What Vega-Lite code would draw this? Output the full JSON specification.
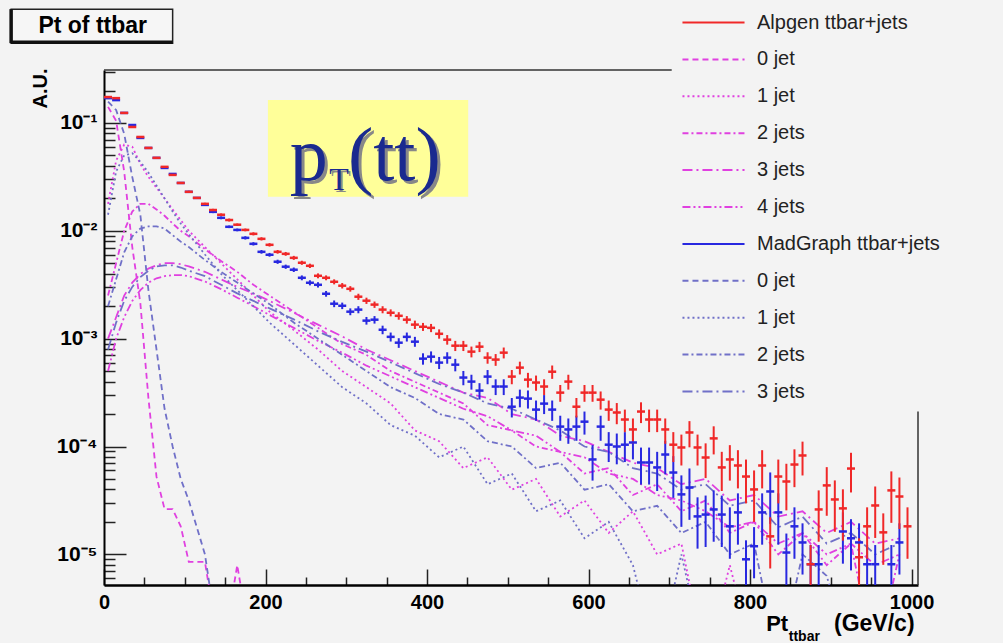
{
"$schema": "https://vega.github.io/schema/vega-lite/v6.json",
"width": 814, "height": 515,
"autosize": {"type": "none"},
"padding": {"left": 104, "top": 70, "right": 85, "bottom": 58},
"background": "#f3f3f3",
"config": {"view": {"stroke": null}, "font": "Liberation Sans"},
"datasets": {
"tot": [
{"s":"M","x":5,"y":0.170,"lo":0.169,"hi":0.171},
{"s":"M","x":15,"y":0.163,"lo":0.162,"hi":0.164},
{"s":"M","x":25,"y":0.124,"lo":0.123,"hi":0.125},
{"s":"M","x":35,"y":0.0958,"lo":0.0948,"hi":0.0968},
{"s":"M","x":45,"y":0.0727,"lo":0.0718,"hi":0.0736},
{"s":"M","x":55,"y":0.0587,"lo":0.0579,"hi":0.0595},
{"s":"M","x":65,"y":0.0475,"lo":0.0468,"hi":0.0482},
{"s":"M","x":75,"y":0.0383,"lo":0.0377,"hi":0.0389},
{"s":"M","x":85,"y":0.0337,"lo":0.0331,"hi":0.0343},
{"s":"M","x":95,"y":0.0278,"lo":0.0273,"hi":0.0283},
{"s":"M","x":105,"y":0.0230,"lo":0.0225,"hi":0.0235},
{"s":"M","x":115,"y":0.0202,"lo":0.0198,"hi":0.0206},
{"s":"M","x":125,"y":0.0174,"lo":0.0170,"hi":0.0178},
{"s":"M","x":135,"y":0.0150,"lo":0.0146,"hi":0.0154},
{"s":"M","x":145,"y":0.0132,"lo":0.0128,"hi":0.0136},
{"s":"M","x":155,"y":0.0109,"lo":0.0106,"hi":0.0112},
{"s":"M","x":165,"y":0.0102,"lo":0.0099,"hi":0.0105},
{"s":"M","x":175,"y":0.00861,"lo":0.00831,"hi":0.00891},
{"s":"M","x":185,"y":0.00758,"lo":0.00731,"hi":0.00785},
{"s":"M","x":195,"y":0.00639,"lo":0.00614,"hi":0.00664},
{"s":"M","x":205,"y":0.00600,"lo":0.00576,"hi":0.00624},
{"s":"M","x":215,"y":0.00517,"lo":0.00494,"hi":0.00540},
{"s":"M","x":225,"y":0.00465,"lo":0.00444,"hi":0.00486},
{"s":"M","x":235,"y":0.00436,"lo":0.00415,"hi":0.00457},
{"s":"M","x":245,"y":0.00367,"lo":0.00348,"hi":0.00386},
{"s":"M","x":255,"y":0.00330,"lo":0.00312,"hi":0.00348},
{"s":"M","x":265,"y":0.00316,"lo":0.00298,"hi":0.00334},
{"s":"M","x":275,"y":0.00261,"lo":0.00245,"hi":0.00277},
{"s":"M","x":285,"y":0.00211,"lo":0.00196,"hi":0.00226},
{"s":"M","x":295,"y":0.00202,"lo":0.00188,"hi":0.00216},
{"s":"M","x":305,"y":0.00178,"lo":0.00165,"hi":0.00191},
{"s":"M","x":315,"y":0.00186,"lo":0.00172,"hi":0.00200},
{"s":"M","x":325,"y":0.00147,"lo":0.00135,"hi":0.00159},
{"s":"M","x":335,"y":0.00150,"lo":0.00138,"hi":0.00162},
{"s":"M","x":345,"y":0.00121,"lo":0.00110,"hi":0.00132},
{"s":"M","x":355,"y":0.00104,"lo":0.000941,"hi":0.00114},
{"s":"M","x":365,"y":0.000918,"lo":0.000822,"hi":0.00101},
{"s":"M","x":375,"y":0.00104,"lo":0.000941,"hi":0.00114},
{"s":"M","x":385,"y":0.000938,"lo":0.000841,"hi":0.00104},
{"s":"M","x":395,"y":0.000653,"lo":0.000574,"hi":0.000732},
{"s":"M","x":405,"y":0.000681,"lo":0.000600,"hi":0.000762},
{"s":"M","x":415,"y":0.000600,"lo":0.000523,"hi":0.000677},
{"s":"M","x":425,"y":0.000667,"lo":0.000586,"hi":0.000748},
{"s":"M","x":435,"y":0.000574,"lo":0.000498,"hi":0.000650},
{"s":"M","x":445,"y":0.000436,"lo":0.000370,"hi":0.000502},
{"s":"M","x":455,"y":0.000400,"lo":0.000337,"hi":0.000463},
{"s":"M","x":465,"y":0.000330,"lo":0.000273,"hi":0.000387},
{"s":"M","x":475,"y":0.000445,"lo":0.000378,"hi":0.000512},
{"s":"M","x":485,"y":0.000360,"lo":0.000300,"hi":0.000420},
{"s":"M","x":495,"y":0.000360,"lo":0.000300,"hi":0.000420},
{"s":"M","x":505,"y":0.000234,"lo":0.000186,"hi":0.000282},
{"s":"M","x":515,"y":0.000284,"lo":0.000231,"hi":0.000337},
{"s":"M","x":525,"y":0.000278,"lo":0.000225,"hi":0.000331},
{"s":"M","x":535,"y":0.000220,"lo":0.000173,"hi":0.000267},
{"s":"M","x":545,"y":0.000250,"lo":0.000200,"hi":0.000300},
{"s":"M","x":555,"y":0.000220,"lo":0.000173,"hi":0.000267},
{"s":"M","x":565,"y":0.000153,"lo":0.000113,"hi":0.000193},
{"s":"M","x":575,"y":0.000144,"lo":0.000106,"hi":0.000182},
{"s":"M","x":585,"y":0.000153,"lo":0.000113,"hi":0.000193},
{"s":"M","x":595,"y":0.000170,"lo":0.000129,"hi":0.000211},
{"s":"M","x":605,"y":0.0000759,"lo":0.0000483,"hi":0.000103},
{"s":"M","x":615,"y":0.000153,"lo":0.000113,"hi":0.000193},
{"s":"M","x":625,"y":0.000104,"lo":0.0000718,"hi":0.000136},
{"s":"M","x":635,"y":0.000100,"lo":0.0000684,"hi":0.000132},
{"s":"M","x":645,"y":0.000104,"lo":0.0000718,"hi":0.000136},
{"s":"M","x":655,"y":0.000109,"lo":0.0000760,"hi":0.000142},
{"s":"M","x":665,"y":0.0000711,"lo":0.0000444,"hi":0.0000978},
{"s":"M","x":675,"y":0.0000711,"lo":0.0000444,"hi":0.0000978},
{"s":"M","x":685,"y":0.0000640,"lo":0.0000387,"hi":0.0000893},
{"s":"M","x":695,"y":0.0000843,"lo":0.0000552,"hi":0.000113},
{"s":"M","x":705,"y":0.0000574,"lo":0.0000334,"hi":0.0000814},
{"s":"M","x":715,"y":0.0000360,"lo":0.0000180,"hi":0.0000540},
{"s":"M","x":725,"y":0.0000417,"lo":0.0000209,"hi":0.0000626},
{"s":"M","x":735,"y":0.0000225,"lo":0.0000113,"hi":0.0000338},
{"s":"M","x":745,"y":0.0000234,"lo":0.0000117,"hi":0.0000351},
{"s":"M","x":755,"y":0.0000261,"lo":0.0000131,"hi":0.0000392},
{"s":"M","x":765,"y":0.0000234,"lo":0.0000117,"hi":0.0000351},
{"s":"M","x":775,"y":0.0000182,"lo":0.0000091,"hi":0.0000273},
{"s":"M","x":785,"y":0.0000245,"lo":0.0000123,"hi":0.0000368},
{"s":"M","x":795,"y":0.0000090,"lo":0.0000045,"hi":0.0000135},
{"s":"M","x":805,"y":0.0000119,"lo":0.0000060,"hi":0.0000179},
{"s":"M","x":815,"y":0.0000245,"lo":0.0000123,"hi":0.0000368},
{"s":"M","x":825,"y":0.0000383,"lo":0.0000192,"hi":0.0000575},
{"s":"M","x":835,"y":0.0000245,"lo":0.0000123,"hi":0.0000368},
{"s":"M","x":845,"y":0.0000104,"lo":0.0000052,"hi":0.0000156},
{"s":"M","x":855,"y":0.0000182,"lo":0.0000091,"hi":0.0000273},
{"s":"M","x":865,"y":0.0000129,"lo":0.0000065,"hi":0.0000194},
{"s":"M","x":875,"y":0.0000081,"lo":0.0000041,"hi":0.0000122},
{"s":"M","x":885,"y":0.0000081,"lo":0.0000041,"hi":0.0000122},
{"s":"M","x":915,"y":0.0000163,"lo":0.0000082,"hi":0.0000245},
{"s":"M","x":925,"y":0.0000141,"lo":0.0000071,"hi":0.0000212},
{"s":"M","x":935,"y":0.0000129,"lo":0.0000065,"hi":0.0000194},
{"s":"M","x":945,"y":0.0000081,"lo":0.0000041,"hi":0.0000122},
{"s":"M","x":955,"y":0.0000081,"lo":0.0000041,"hi":0.0000122},
{"s":"M","x":975,"y":0.0000081,"lo":0.0000041,"hi":0.0000122},
{"s":"M","x":985,"y":0.0000129,"lo":0.0000065,"hi":0.0000194},
{"s":"A","x":5,"y":0.174,"lo":0.173,"hi":0.175},
{"s":"A","x":15,"y":0.170,"lo":0.169,"hi":0.171},
{"s":"A","x":25,"y":0.124,"lo":0.123,"hi":0.125},
{"s":"A","x":35,"y":0.0918,"lo":0.0908,"hi":0.0928},
{"s":"A","x":45,"y":0.0742,"lo":0.0733,"hi":0.0751},
{"s":"A","x":55,"y":0.0587,"lo":0.0579,"hi":0.0595},
{"s":"A","x":65,"y":0.0475,"lo":0.0468,"hi":0.0482},
{"s":"A","x":75,"y":0.0392,"lo":0.0386,"hi":0.0398},
{"s":"A","x":85,"y":0.0330,"lo":0.0324,"hi":0.0336},
{"s":"A","x":95,"y":0.0278,"lo":0.0273,"hi":0.0283},
{"s":"A","x":105,"y":0.0230,"lo":0.0225,"hi":0.0235},
{"s":"A","x":115,"y":0.0202,"lo":0.0198,"hi":0.0206},
{"s":"A","x":125,"y":0.0178,"lo":0.0174,"hi":0.0182},
{"s":"A","x":135,"y":0.0156,"lo":0.0152,"hi":0.0160},
{"s":"A","x":145,"y":0.0141,"lo":0.0137,"hi":0.0145},
{"s":"A","x":155,"y":0.0126,"lo":0.0122,"hi":0.0130},
{"s":"A","x":165,"y":0.0114,"lo":0.0111,"hi":0.0117},
{"s":"A","x":175,"y":0.0102,"lo":0.0099,"hi":0.0105},
{"s":"A","x":185,"y":0.00938,"lo":0.00907,"hi":0.00969},
{"s":"A","x":195,"y":0.00843,"lo":0.00814,"hi":0.00872},
{"s":"A","x":205,"y":0.00742,"lo":0.00715,"hi":0.00769},
{"s":"A","x":215,"y":0.00639,"lo":0.00614,"hi":0.00664},
{"s":"A","x":225,"y":0.00612,"lo":0.00587,"hi":0.00637},
{"s":"A","x":235,"y":0.00562,"lo":0.00538,"hi":0.00586},
{"s":"A","x":245,"y":0.00506,"lo":0.00484,"hi":0.00528},
{"s":"A","x":255,"y":0.00474,"lo":0.00452,"hi":0.00496},
{"s":"A","x":265,"y":0.00383,"lo":0.00363,"hi":0.00403},
{"s":"A","x":275,"y":0.00367,"lo":0.00348,"hi":0.00386},
{"s":"A","x":285,"y":0.00337,"lo":0.00319,"hi":0.00355},
{"s":"A","x":295,"y":0.00310,"lo":0.00292,"hi":0.00328},
{"s":"A","x":305,"y":0.00290,"lo":0.00273,"hi":0.00307},
{"s":"A","x":315,"y":0.00245,"lo":0.00229,"hi":0.00261},
{"s":"A","x":325,"y":0.00225,"lo":0.00210,"hi":0.00240},
{"s":"A","x":335,"y":0.00207,"lo":0.00193,"hi":0.00221},
{"s":"A","x":345,"y":0.00186,"lo":0.00172,"hi":0.00200},
{"s":"A","x":355,"y":0.00174,"lo":0.00161,"hi":0.00187},
{"s":"A","x":365,"y":0.00163,"lo":0.00150,"hi":0.00176},
{"s":"A","x":375,"y":0.00150,"lo":0.00138,"hi":0.00162},
{"s":"A","x":385,"y":0.00135,"lo":0.00123,"hi":0.00147},
{"s":"A","x":395,"y":0.00129,"lo":0.00118,"hi":0.00140},
{"s":"A","x":405,"y":0.00126,"lo":0.00115,"hi":0.00137},
{"s":"A","x":415,"y":0.00111,"lo":0.00100,"hi":0.00122},
{"s":"A","x":425,"y":0.000979,"lo":0.000880,"hi":0.00108},
{"s":"A","x":435,"y":0.000861,"lo":0.000768,"hi":0.000954},
{"s":"A","x":445,"y":0.000861,"lo":0.000768,"hi":0.000954},
{"s":"A","x":455,"y":0.000758,"lo":0.000671,"hi":0.000845},
{"s":"A","x":465,"y":0.000843,"lo":0.000751,"hi":0.000935},
{"s":"A","x":475,"y":0.000667,"lo":0.000586,"hi":0.000748},
{"s":"A","x":485,"y":0.000640,"lo":0.000560,"hi":0.000720},
{"s":"A","x":495,"y":0.000742,"lo":0.000656,"hi":0.000828},
{"s":"A","x":505,"y":0.000445,"lo":0.000378,"hi":0.000512},
{"s":"A","x":515,"y":0.000539,"lo":0.000466,"hi":0.000612},
{"s":"A","x":525,"y":0.000417,"lo":0.000352,"hi":0.000482},
{"s":"A","x":535,"y":0.000392,"lo":0.000329,"hi":0.000455},
{"s":"A","x":545,"y":0.000360,"lo":0.000300,"hi":0.000420},
{"s":"A","x":555,"y":0.000494,"lo":0.000424,"hi":0.000564},
{"s":"A","x":565,"y":0.000316,"lo":0.000260,"hi":0.000372},
{"s":"A","x":575,"y":0.000400,"lo":0.000337,"hi":0.000463},
{"s":"A","x":585,"y":0.000234,"lo":0.000186,"hi":0.000282},
{"s":"A","x":595,"y":0.000316,"lo":0.000260,"hi":0.000372},
{"s":"A","x":605,"y":0.000316,"lo":0.000260,"hi":0.000372},
{"s":"A","x":615,"y":0.000272,"lo":0.000220,"hi":0.000324},
{"s":"A","x":625,"y":0.000220,"lo":0.000173,"hi":0.000267},
{"s":"A","x":635,"y":0.000207,"lo":0.000161,"hi":0.000253},
{"s":"A","x":645,"y":0.000178,"lo":0.000136,"hi":0.000220},
{"s":"A","x":655,"y":0.000144,"lo":0.000106,"hi":0.000182},
{"s":"A","x":665,"y":0.000211,"lo":0.000165,"hi":0.000257},
{"s":"A","x":675,"y":0.000178,"lo":0.000136,"hi":0.000220},
{"s":"A","x":685,"y":0.000178,"lo":0.000136,"hi":0.000220},
{"s":"A","x":695,"y":0.000144,"lo":0.000106,"hi":0.000182},
{"s":"A","x":705,"y":0.000104,"lo":0.0000718,"hi":0.000136},
{"s":"A","x":715,"y":0.0000980,"lo":0.0000667,"hi":0.000129},
{"s":"A","x":725,"y":0.000135,"lo":0.0000983,"hi":0.000172},
{"s":"A","x":735,"y":0.0000980,"lo":0.0000667,"hi":0.000129},
{"s":"A","x":745,"y":0.0000791,"lo":0.0000510,"hi":0.000107},
{"s":"A","x":755,"y":0.000119,"lo":0.0000845,"hi":0.000154},
{"s":"A","x":765,"y":0.0000640,"lo":0.0000387,"hi":0.0000893},
{"s":"A","x":775,"y":0.0000759,"lo":0.0000483,"hi":0.000103},
{"s":"A","x":785,"y":0.0000667,"lo":0.0000409,"hi":0.0000925},
{"s":"A","x":795,"y":0.0000527,"lo":0.0000297,"hi":0.0000757},
{"s":"A","x":805,"y":0.0000400,"lo":0.0000200,"hi":0.0000600},
{"s":"A","x":815,"y":0.0000667,"lo":0.0000409,"hi":0.0000925},
{"s":"A","x":825,"y":0.0000147,"lo":0.0000074,"hi":0.0000221},
{"s":"A","x":835,"y":0.0000527,"lo":0.0000297,"hi":0.0000757},
{"s":"A","x":845,"y":0.0000474,"lo":0.0000256,"hi":0.0000692},
{"s":"A","x":855,"y":0.0000681,"lo":0.0000420,"hi":0.0000942},
{"s":"A","x":865,"y":0.0000826,"lo":0.0000539,"hi":0.000111},
{"s":"A","x":875,"y":0.0000081,"lo":0.0000041,"hi":0.0000122},
{"s":"A","x":885,"y":0.0000261,"lo":0.0000131,"hi":0.0000392},
{"s":"A","x":895,"y":0.0000436,"lo":0.0000228,"hi":0.0000644},
{"s":"A","x":905,"y":0.0000323,"lo":0.0000162,"hi":0.0000485},
{"s":"A","x":915,"y":0.0000267,"lo":0.0000134,"hi":0.0000401},
{"s":"A","x":925,"y":0.0000625,"lo":0.0000375,"hi":0.0000875},
{"s":"A","x":935,"y":0.0000094,"lo":0.0000047,"hi":0.0000141},
{"s":"A","x":945,"y":0.0000182,"lo":0.0000091,"hi":0.0000273},
{"s":"A","x":955,"y":0.0000284,"lo":0.0000142,"hi":0.0000426},
{"s":"A","x":965,"y":0.0000160,"lo":0.0000080,"hi":0.0000240},
{"s":"A","x":975,"y":0.0000392,"lo":0.0000196,"hi":0.0000588},
{"s":"A","x":985,"y":0.0000344,"lo":0.0000172,"hi":0.0000516},
{"s":"A","x":995,"y":0.0000182,"lo":0.0000091,"hi":0.0000273}
],
"comp": [
{"x":5,"A0":1.41e-1,"M0":1.58e-1,"A1":1.78e-2,"M1":1.41e-2,"A2":2.51e-3,"M2":2.0e-3,"A3":1.0e-3,"M3":7.94e-4,"A4":5.01e-4},
{"x":15,"A0":1.05e-1,"M0":1.32e-1,"A1":4.47e-2,"M1":3.55e-2,"A2":5.01e-3,"M2":3.55e-3,"A3":1.58e-3,"M3":1.41e-3,"A4":1.0e-3},
{"x":25,"A0":3.55e-2,"M0":7.94e-2,"A1":6.31e-2,"M1":5.01e-2,"A2":1.0e-2,"M2":6.31e-3,"A3":2.51e-3,"M3":2.24e-3,"A4":1.58e-3},
{"x":35,"A0":7.08e-3,"M0":3.16e-2,"A1":6.03e-2,"M1":5.25e-2,"A2":1.51e-2,"M2":8.91e-3,"A3":3.31e-3,"M3":3.02e-3,"A4":2.24e-3},
{"x":45,"A0":2.14e-3,"M0":1.41e-2,"A1":4.17e-2,"M1":4.37e-2,"A2":1.78e-2,"M2":1.05e-2,"A3":3.98e-3,"M3":3.72e-3,"A4":2.82e-3},
{"x":55,"A0":2.82e-4,"M0":2.82e-3,"A1":3.16e-2,"M1":3.47e-2,"A2":1.78e-2,"M2":1.10e-2,"A3":4.47e-3,"M3":4.27e-3,"A4":3.31e-3},
{"x":65,"A0":5.25e-5,"M0":7.94e-4,"A1":2.51e-2,"M1":2.63e-2,"A2":1.58e-2,"M2":1.10e-2,"A3":4.79e-3,"M3":4.68e-3,"A4":3.63e-3},
{"x":75,"A0":2.63e-5,"M0":2.24e-4,"A1":2.0e-2,"M1":2.0e-2,"A2":1.38e-2,"M2":1.05e-2,"A3":5.01e-3,"M3":4.79e-3,"A4":3.80e-3},
{"x":85,"A0":2.63e-5,"M0":1.0e-4,"A1":1.58e-2,"M1":1.51e-2,"A2":1.17e-2,"M2":9.12e-3,"A3":5.01e-3,"M3":4.79e-3,"A4":3.89e-3},
{"x":95,"A0":1.82e-5,"M0":5.01e-5,"A1":1.26e-2,"M1":1.17e-2,"A2":1.0e-2,"M2":7.94e-3,"A3":4.90e-3,"M3":4.57e-3,"A4":3.89e-3},
{"x":105,"A0":8.51e-6,"M0":3.16e-5,"A1":1.0e-2,"M1":9.33e-3,"A2":8.91e-3,"M2":7.08e-3,"A3":4.68e-3,"M3":4.27e-3,"A4":3.80e-3},
{"x":125,"A0":8.51e-6,"M0":1.0e-5,"A1":7.08e-3,"M1":6.03e-3,"A2":6.76e-3,"M2":5.37e-3,"A3":4.17e-3,"M3":3.80e-3,"A4":3.39e-3},
{"x":145,"A0":1e-6,"M0":1e-6,"A1":5.01e-3,"M1":3.98e-3,"A2":5.25e-3,"M2":4.17e-3,"A3":3.55e-3,"M3":3.16e-3,"A4":2.88e-3},
{"x":165,"A0":7.94e-6,"A1":3.55e-3,"M1":2.82e-3,"A2":4.17e-3,"M2":3.31e-3,"A3":3.02e-3,"M3":2.63e-3,"A4":2.40e-3},
{"x":185,"A0":1e-6,"A1":2.51e-3,"M1":2.0e-3,"A2":3.16e-3,"M2":2.63e-3,"A3":2.63e-3,"M3":2.24e-3,"A4":2.0e-3},
{"x":205,"A1":1.78e-3,"M1":1.41e-3,"A2":2.51e-3,"M2":2.09e-3,"A3":2.24e-3,"M3":1.91e-3,"A4":1.66e-3},
{"x":235,"A1":1.20e-3,"M1":8.91e-4,"A2":1.78e-3,"M2":1.41e-3,"A3":1.74e-3,"M3":1.51e-3,"A4":1.26e-3},
{"x":265,"A1":7.94e-4,"M1":5.62e-4,"A2":1.26e-3,"M2":1.0e-3,"A3":1.35e-3,"M3":1.17e-3,"A4":9.55e-4},
{"x":295,"A1":5.01e-4,"M1":3.55e-4,"A2":8.91e-4,"M2":7.08e-4,"A3":1.05e-3,"M3":9.33e-4,"A4":7.41e-4},
{"x":325,"A1":3.55e-4,"M1":2.51e-4,"A2":7.08e-4,"M2":5.01e-4,"A3":7.94e-4,"M3":7.59e-4,"A4":5.62e-4},
{"x":355,"A1":2.51e-4,"M1":1.58e-4,"A2":5.01e-4,"M2":3.55e-4,"A3":6.31e-4,"M3":6.03e-4,"A4":4.47e-4},
{"x":385,"A1":1.41e-4,"M1":1.26e-4,"A2":3.98e-4,"M2":2.82e-4,"A3":5.01e-4,"M3":4.79e-4,"A4":3.55e-4},
{"x":415,"A1":1.12e-4,"M1":7.94e-5,"A2":3.16e-4,"M2":2.0e-4,"A3":3.98e-4,"M3":3.80e-4,"A4":2.82e-4},
{"x":445,"A1":6.31e-5,"M1":1.0e-4,"A2":2.51e-4,"M2":1.78e-4,"A3":3.16e-4,"M3":3.16e-4,"A4":2.24e-4},
{"x":475,"A1":7.94e-5,"M1":4.47e-5,"A2":1.58e-4,"M2":1.12e-4,"A3":2.82e-4,"M3":2.51e-4,"A4":1.91e-4},
{"x":505,"A1":3.98e-5,"M1":5.62e-5,"A2":1.41e-4,"M2":1.0e-4,"A3":2.0e-4,"M3":2.24e-4,"A4":1.41e-4},
{"x":535,"A1":5.01e-5,"M1":2.51e-5,"A2":1.0e-4,"M2":6.31e-5,"A3":1.78e-4,"M3":1.78e-4,"A4":1.26e-4},
{"x":565,"A1":2.24e-5,"M1":3.16e-5,"A2":8.91e-5,"M2":7.08e-5,"A3":1.26e-4,"M3":1.41e-4,"A4":8.91e-5},
{"x":595,"A1":3.16e-5,"M1":1.41e-5,"A2":5.62e-5,"M2":3.98e-5,"A3":1.12e-4,"M3":1.0e-4,"A4":7.94e-5},
{"x":625,"A1":1.58e-5,"M1":2.0e-5,"A2":6.31e-5,"M2":4.47e-5,"A3":8.91e-5,"M3":8.91e-5,"A4":5.62e-5},
{"x":655,"A1":2.51e-5,"M1":7.94e-6,"A2":3.55e-5,"M2":2.51e-5,"A3":7.08e-5,"M3":6.31e-5,"A4":5.01e-5},
{"x":685,"A1":1.0e-5,"M1":1e-6,"A2":4.47e-5,"M2":2.82e-5,"A3":6.31e-5,"M3":5.62e-5,"A4":3.55e-5},
{"x":715,"A1":1.26e-5,"M1":1.0e-5,"A2":2.51e-5,"M2":1.58e-5,"A3":4.47e-5,"M3":3.98e-5,"A4":3.16e-5},
{"x":745,"A1":1e-6,"M1":1e-6,"A2":3.16e-5,"M2":2.0e-5,"A3":5.01e-5,"M3":4.47e-5,"A4":2.51e-5},
{"x":775,"A1":7.94e-6,"A2":1.58e-5,"M2":1.0e-5,"A3":3.16e-5,"M3":2.82e-5,"A4":1.78e-5},
{"x":805,"A1":1e-6,"A2":2.0e-5,"M2":1.26e-5,"A3":3.55e-5,"M3":3.16e-5,"A4":2.0e-5},
{"x":835,"A2":1.0e-5,"M2":1e-6,"A3":2.24e-5,"M3":1.78e-5,"A4":1.26e-5},
{"x":865,"A2":1.58e-5,"M2":1.0e-5,"A3":2.51e-5,"M3":2.24e-5,"A4":1.58e-5},
{"x":895,"A2":7.94e-6,"M2":6.31e-6,"A3":1.58e-5,"M3":1.26e-5,"A4":1.0e-5},
{"x":925,"A2":1.26e-5,"M2":1e-6,"A3":2.0e-5,"M3":1.58e-5,"A4":1.26e-5},
{"x":955,"A2":1e-6,"A3":1.26e-5,"M3":1.0e-5,"A4":7.94e-6},
{"x":985,"A2":1.0e-5,"A3":1.41e-5,"M3":1.26e-5,"A4":1.0e-5}
]
},
"layer": [
{
"data": {"name": "comp"},
"transform": [
{"fold": ["A0", "A1", "A2", "A3", "A4", "M0", "M1", "M2", "M3"], "as": ["s", "y"]},
{"filter": "isValid(datum.y)"}
],
"mark": {"type": "line", "clip": true, "strokeWidth": 1.8},
"encoding": {
"x": {"field": "x", "type": "quantitative",
"scale": {"type": "linear", "domain": [0, 1008], "nice": false, "zero": false},
"axis": {"title": null, "grid": false, "values": [0,50,100,150,200,250,300,350,400,450,500,550,600,650,700,750,800,850,900,950,1000],
"format": "d", "labelExpr": "datum.value % 200 === 0 ? datum.label : ''",
"tickSize": {"condition": {"test": "datum.value % 200 === 0", "value": -16}, "value": -8},
"tickColor": "#222", "tickWidth": 1.5, "domainColor": "#000", "domainWidth": 2.5,
"labelFont": "Liberation Sans", "labelFontWeight": "bold", "labelFontSize": 20, "labelColor": "#000",
"labelPadding": 23, "labelFlush": false, "labelOverlap": false}},
"y": {"field": "y", "type": "quantitative",
"scale": {"type": "log", "domain": [0.0000052, 0.31], "nice": false},
"axis": {"title": "A.U.", "titleFont": "Liberation Sans", "titleFontWeight": "bold", "titleFontSize": 20, "titleColor": "#000",
"titleAngle": 270, "titleAlign": "right", "titleBaseline": "middle", "titleX": -64, "titleY": -2,
"grid": false,
"values": [0.000006,0.000007,0.000008,0.000009,0.00001,0.00002,0.00003,0.00004,0.00005,0.00006,0.00007,0.00008,0.00009,0.0001,0.0002,0.0003,0.0004,0.0005,0.0006,0.0007,0.0008,0.0009,0.001,0.002,0.003,0.004,0.005,0.006,0.007,0.008,0.009,0.01,0.02,0.03,0.04,0.05,0.06,0.07,0.08,0.09,0.1,0.2,0.3],
"labelExpr": "datum.value === 0.1 ? '10⁻¹' : datum.value === 0.01 ? '10⁻²' : datum.value === 0.001 ? '10⁻³' : datum.value === 0.0001 ? '10⁻⁴' : datum.value === 0.00001 ? '10⁻⁵' : ''",
"tickSize": {"condition": {"test": "datum.value === 0.1 || datum.value === 0.01 || datum.value === 0.001 || datum.value === 0.0001 || datum.value === 0.00001", "value": -22}, "value": -11},
"tickColor": "#222", "tickWidth": 1.5, "domainColor": "#000", "domainWidth": 2,
"labelFont": "Liberation Sans", "labelFontWeight": "bold", "labelFontSize": 21, "labelColor": "#000",
"labelPadding": 29, "labelOverlap": false, "labelFlush": false}},
"color": {"field": "s", "type": "nominal",
"scale": {"domain": ["A","A0","A1","A2","A3","A4","M","M0","M1","M2","M3"],
"range": ["#f02828","#e040e0","#e040e0","#e040e0","#e040e0","#e040e0","#2828e0","#7070c8","#7070c8","#7070c8","#7070c8"]},
"legend": {"orient": "none", "legendX": 598, "legendY": -59, "title": null, "padding": 0,
"symbolType": "M-3,0H3", "symbolSize": 428, "symbolStrokeWidth": 2, "symbolOpacity": 1,
"labelFont": "Liberation Sans", "labelFontSize": 20, "labelColor": "#222", "labelOffset": 32, "labelLimit": 400,
"rowPadding": 14.9,
"labelExpr": "datum.value === 'A' ? 'Alpgen ttbar+jets' : datum.value === 'M' ? 'MadGraph ttbar+jets' : (datum.value === 'A0' || datum.value === 'M0') ? '0 jet' : (datum.value === 'A1' || datum.value === 'M1') ? '1 jet' : (datum.value === 'A2' || datum.value === 'M2') ? '2 jets' : (datum.value === 'A3' || datum.value === 'M3') ? '3 jets' : '4 jets'"}},
"strokeDash": {"field": "s", "type": "nominal",
"scale": {"domain": ["A","A0","A1","A2","A3","A4","M","M0","M1","M2","M3"],
"range": [[1,0],[6,4],[2,3],[6,3,2,3],[10,4,2,4],[8,3,2,3,2,3],[1,0],[6,4],[2,3],[6,3,2,3],[10,4,2,4]]}}
}
},
{
"data": {"values": [{}]},
"mark": {"type": "rect", "fill": "#ffff99", "clip": false},
"encoding": {
"x": {"datum": 203, "type": "quantitative"},
"x2": {"datum": 451},
"y": {"datum": 0.163, "type": "quantitative"},
"y2": {"datum": 0.0207}
}
},
{
"data": {"name": "tot"},
"mark": {"type": "rule", "clip": true, "strokeWidth": 2},
"encoding": {
"x": {"field": "x", "type": "quantitative"},
"y": {"field": "lo", "type": "quantitative"},
"y2": {"field": "hi"},
"color": {"field": "s", "type": "nominal", "legend": null}
}
},
{
"data": {"name": "tot"},
"mark": {"type": "tick", "orient": "horizontal", "clip": true, "size": 8, "thickness": 2.5, "opacity": 1},
"encoding": {
"x": {"field": "x", "type": "quantitative"},
"y": {"field": "y", "type": "quantitative"},
"color": {"field": "s", "type": "nominal", "legend": null}
}
},
{
"data": {"values": [{}]},
"mark": {"type": "rule", "stroke": "#333", "strokeWidth": 1.5, "clip": false},
"encoding": {"x": {"datum": 0, "type": "quantitative"}, "x2": {"datum": 703}, "y": {"datum": 0.31, "type": "quantitative"}}
},
{
"data": {"values": [{}]},
"mark": {"type": "rule", "stroke": "#333", "strokeWidth": 1.5, "clip": false},
"encoding": {"x": {"datum": 1008, "type": "quantitative"}, "y": {"datum": 0.0000052, "type": "quantitative"}, "y2": {"datum": 0.000211}}
},
{
"data": {"values": [{}]},
"mark": {"type": "rect", "fill": "#f6f6f6", "stroke": "#222", "strokeWidth": 1.5, "clip": false},
"encoding": {"x": {"datum": -115, "type": "quantitative"}, "x2": {"datum": 85}, "y": {"datum": 1.137, "type": "quantitative"}, "y2": {"datum": 0.55}}
},
{
"data": {"values": [{}]},
"mark": {"type": "rule", "stroke": "#111", "strokeWidth": 3.5, "clip": false},
"encoding": {"x": {"datum": -115, "type": "quantitative"}, "y": {"datum": 1.137, "type": "quantitative"}, "y2": {"datum": 0.55}}
},
{
"data": {"values": [{}]},
"mark": {"type": "rule", "stroke": "#111", "strokeWidth": 3.5, "clip": false},
"encoding": {"x": {"datum": -115, "type": "quantitative"}, "x2": {"datum": 85}, "y": {"datum": 0.56, "type": "quantitative"}}
},
{
"data": {"values": [{}]},
"mark": {"type": "text", "text": "Pt of ttbar", "font": "Liberation Sans", "fontWeight": "bold", "fontSize": 23, "color": "#000", "align": "center", "baseline": "middle", "clip": false},
"encoding": {"x": {"datum": -14, "type": "quantitative"}, "y": {"datum": 0.79, "type": "quantitative"}}
},
{
"data": {"values": [{}]},
"mark": {"type": "text", "text": "p", "font": "Liberation Serif", "fontSize": 76, "color": "#888", "align": "left", "baseline": "alphabetic", "dx": 3, "dy": 3, "clip": false},
"encoding": {"x": {"datum": 230, "type": "quantitative"}, "y": {"datum": 0.0297, "type": "quantitative"}}
},
{
"data": {"values": [{}]},
"mark": {"type": "text", "text": "p", "font": "Liberation Serif", "fontSize": 76, "color": "#1a2a8f", "align": "left", "baseline": "alphabetic", "clip": false},
"encoding": {"x": {"datum": 230, "type": "quantitative"}, "y": {"datum": 0.0297, "type": "quantitative"}}
},
{
"data": {"values": [{}]},
"mark": {"type": "text", "text": "T", "font": "Liberation Serif", "fontSize": 32, "color": "#888", "align": "left", "baseline": "alphabetic", "dx": 2, "dy": 2, "clip": false},
"encoding": {"x": {"datum": 279, "type": "quantitative"}, "y": {"datum": 0.024, "type": "quantitative"}}
},
{
"data": {"values": [{}]},
"mark": {"type": "text", "text": "T", "font": "Liberation Serif", "fontSize": 32, "color": "#1a2a8f", "align": "left", "baseline": "alphabetic", "clip": false},
"encoding": {"x": {"datum": 279, "type": "quantitative"}, "y": {"datum": 0.024, "type": "quantitative"}}
},
{
"data": {"values": [{}]},
"mark": {"type": "text", "text": "(tt)", "font": "Liberation Serif", "fontSize": 76, "color": "#888", "align": "left", "baseline": "alphabetic", "dx": 3, "dy": 3, "clip": false},
"encoding": {"x": {"datum": 302, "type": "quantitative"}, "y": {"datum": 0.0297, "type": "quantitative"}}
},
{
"data": {"values": [{}]},
"mark": {"type": "text", "text": "(tt)", "font": "Liberation Serif", "fontSize": 76, "color": "#1a2a8f", "align": "left", "baseline": "alphabetic", "clip": false},
"encoding": {"x": {"datum": 302, "type": "quantitative"}, "y": {"datum": 0.0297, "type": "quantitative"}}
},
{
"data": {"values": [{}]},
"mark": {"type": "text", "text": "Pt", "font": "Liberation Sans", "fontWeight": "bold", "fontSize": 22, "color": "#000", "align": "left", "baseline": "alphabetic", "clip": false},
"encoding": {"x": {"datum": 820, "type": "quantitative"}, "y": {"datum": 0.00000195, "type": "quantitative"}}
},
{
"data": {"values": [{}]},
"mark": {"type": "text", "text": "ttbar", "font": "Liberation Sans", "fontWeight": "bold", "fontSize": 14, "color": "#000", "align": "left", "baseline": "alphabetic", "clip": false},
"encoding": {"x": {"datum": 848, "type": "quantitative"}, "y": {"datum": 0.00000158, "type": "quantitative"}}
},
{
"data": {"values": [{}]},
"mark": {"type": "text", "text": "(GeV/c)", "font": "Liberation Sans", "fontWeight": "bold", "fontSize": 23, "color": "#000", "align": "left", "baseline": "alphabetic", "clip": false},
"encoding": {"x": {"datum": 904, "type": "quantitative"}, "y": {"datum": 0.00000195, "type": "quantitative"}}
}
]
}
